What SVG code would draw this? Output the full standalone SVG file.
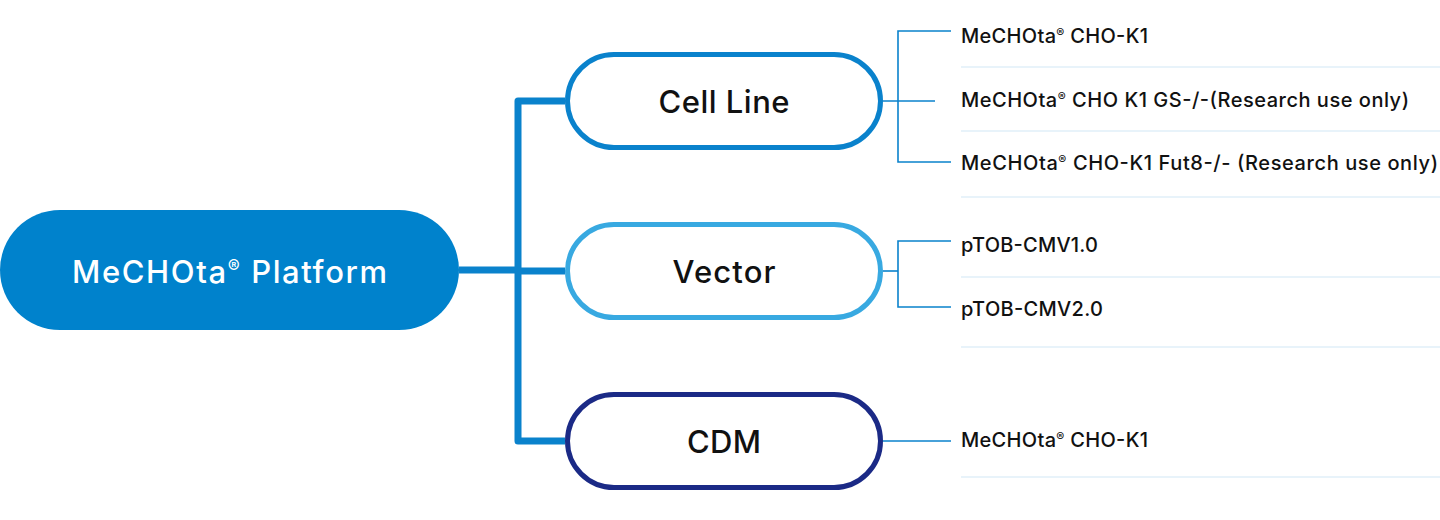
<svg xmlns="http://www.w3.org/2000/svg" width="1440" height="520" viewBox="0 0 1440 520">
<style>
.lbl{font-family:Inter,"Noto Sans","Liberation Sans",sans-serif;font-weight:500;fill:#111;}
.node-t{font-size:31px;text-anchor:middle;}
.item{font-size:20px;}
.reg{font-size:12px;}
.regbig{font-size:18px;}
.thin{stroke:#0A82CC;stroke-width:1.6;fill:none;}
.bus{stroke:#0A82CC;stroke-width:7;fill:none;stroke-linejoin:round;}
.sep{stroke:#D2E8F6;stroke-width:1.2;}
.pill{fill:#fff;stroke-width:5;}
</style>
<rect width="1440" height="520" fill="#fff"/>
<g id="connectors">
<path class="bus" d="M459 270 H518"/>
<path class="bus" d="M565 101 H518 V441 H565"/>
<path class="bus" d="M518 271 H565"/>
<path class="thin" d="M883 101 H935"/>
<path class="thin" d="M951 31 H898 V162 H951"/>
<path class="thin" d="M883 271 H898"/>
<path class="thin" d="M951 241 H898 V307 H951"/>
<path class="thin" d="M883 441 H951"/>
</g>
<g id="separators">
<line class="sep" x1="961" y1="67" x2="1440" y2="67"/>
<line class="sep" x1="961" y1="131" x2="1440" y2="131"/>
<line class="sep" x1="961" y1="197" x2="1440" y2="197"/>
<line class="sep" x1="961" y1="277" x2="1440" y2="277"/>
<line class="sep" x1="961" y1="347" x2="1440" y2="347"/>
<line class="sep" x1="961" y1="477" x2="1440" y2="477"/>
</g>
<g id="platform">
<rect x="0" y="210" width="459" height="120" rx="60" fill="#0082CC"/>
<text class="lbl node-t" x="229.5" y="283" style="fill:#fff" textLength="315" lengthAdjust="spacing">MeCHOta<tspan class="regbig" dy="-10">®</tspan><tspan dy="10"> Platform</tspan></text>
</g>
<g id="cell-line">
<rect class="pill" x="567.5" y="54.5" width="313" height="93" rx="46.5" stroke="#0A82CC"/>
<text class="lbl node-t" x="724" y="113" textLength="131" lengthAdjust="spacing">Cell Line</text>
</g>
<g id="vector">
<rect class="pill" x="567.5" y="224.5" width="313" height="93" rx="46.5" stroke="#38A9E1"/>
<text class="lbl node-t" x="724" y="283" textLength="103" lengthAdjust="spacing">Vector</text>
</g>
<g id="cdm">
<rect class="pill" x="567.5" y="394.5" width="313" height="93" rx="46.5" stroke="#1B2A86"/>
<text class="lbl node-t" x="724" y="453" textLength="74" lengthAdjust="spacing">CDM</text>
</g>
<g id="items">
<text class="lbl item" x="961" y="43" textLength="187" lengthAdjust="spacing">MeCHOta<tspan class="reg" dy="-6">®</tspan><tspan dy="6"> CHO-K1</tspan></text>
<text class="lbl item" x="961" y="107" textLength="448" lengthAdjust="spacing">MeCHOta<tspan class="reg" dy="-6">®</tspan><tspan dy="6"> CHO K1 GS-/-(Research use only)</tspan></text>
<text class="lbl item" x="961" y="170" textLength="477" lengthAdjust="spacing">MeCHOta<tspan class="reg" dy="-6">®</tspan><tspan dy="6"> CHO-K1 Fut8-/- (Research use only)</tspan></text>
<text class="lbl item" x="961" y="252" textLength="137" lengthAdjust="spacing">pTOB-CMV1.0</text>
<text class="lbl item" x="961" y="316" textLength="142" lengthAdjust="spacing">pTOB-CMV2.0</text>
<text class="lbl item" x="961" y="447" textLength="187" lengthAdjust="spacing">MeCHOta<tspan class="reg" dy="-6">®</tspan><tspan dy="6"> CHO-K1</tspan></text>
</g>
</svg>
